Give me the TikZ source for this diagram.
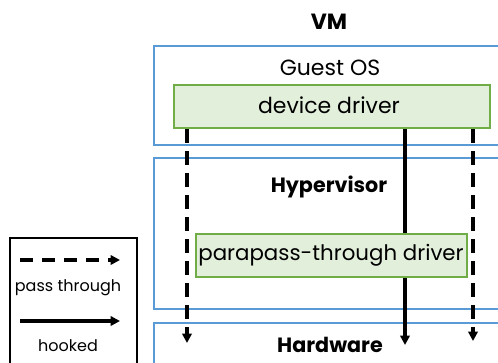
\documentclass[tikz,border=0pt]{standalone}
\usepackage{fontspec}
\setmainfont{Poppins}
\usepackage{tikz}
\usetikzlibrary{arrows.meta}
\usetikzlibrary{positioning}
\usepackage{xcolor}
\definecolor{layerblue}{HTML}{5B9BD5}
\definecolor{drvgreen}{HTML}{70AD47}
\definecolor{drvfill}{HTML}{E2EFDA}
\tikzset{
    layer/.style={
        draw=layerblue,
        line width=1.8pt,
        anchor=north west,
        minimum width=270pt,
        inner sep=0pt
    },
    driver/.style={
        draw=drvgreen,
        fill=drvfill,
        line width=1.8pt,
        anchor=north west,
        inner sep=0pt
    },
    title/.style={
        font=\fontsize{15.5}{18}\selectfont\bfseries
    },
    label/.style={
        font=\fontsize{16.5}{19}\selectfont
    },
    passedge/.style={
        draw,
        line width=2.8pt,
        dash pattern=on 10pt off 6.5pt,
        -{Triangle[length=7pt, width=7pt]}
    },
    hookedge/.style={
        draw,
        line width=2.4pt
    }
}

\begin{document}
\begin{tikzpicture}[x=0.75pt, y=-0.75pt]
  % Fix the frame to the reference size
  \useasboundingbox (0,0) rectangle (498,362);
  \clip (0,0) rectangle (498,362);

  % Layers
  \node[title, font=\fontsize{16.5}{19}\selectfont\bfseries] (vmtitle) at (329,22) {VM};
  \node[layer, minimum height=74.25pt] (guest) at (153,45) {};
  \node[label] (guesttitle) at (330,68) {Guest OS};
  \node[layer, minimum height=113.25pt] (hyper) at (153,157) {};
  \node[title] (hypertitle) at (329,187) {Hypervisor};
  \node[layer, minimum height=60pt] (hw) at (153,322) {};
  \node[title] (hwtitle) at (330,345) {Hardware};

  % Drivers
  \node[driver, minimum width=237pt, minimum height=32.25pt] (dd) at (173,84) {};
  \node[label] (ddtext) at (329,105) {device driver};
  \node[driver, minimum width=203.25pt, minimum height=32.25pt] (pt) at (195,233) {};
  \node[label, font=\fontsize{16}{19}\selectfont] (pttext) at (331,255) {parapass-through driver};

  % Ends of the arrows
  \coordinate (passl) at (187,343);
  \coordinate (passr) at (473,341);
  \coordinate (hookend) at (405,345);

  % Arrows through the layers
  \draw[passedge] (dd.south -| passl) -- (passl);
  \draw[passedge] (dd.south -| passr) -- (passr);
  \draw[hookedge] (dd.south -| hookend) -- (pt.north -| hookend);
  \draw[hookedge, -{Triangle[length=7pt, width=7pt]}] (pt.south -| hookend) -- (hookend);

  % Legend
  \node[draw, line width=1.8pt, anchor=north west, minimum width=95.25pt,
        minimum height=100pt, inner sep=0pt] (legend) at (9,237) {};
  \coordinate (la) at (20,260);
  \coordinate (lb) at (120,260);
  \coordinate (lc) at (20,321);
  \coordinate (ld) at (120,321);
  \draw[passedge] (la) -- (lb);
  \node[font=\fontsize{12}{14}\selectfont] (passtext) at (68,288) {pass through};
  \draw[hookedge, -{Triangle[length=7pt, width=7pt]}] (lc) -- (ld);
  \node[font=\fontsize{12}{14}\selectfont] (hooktext) at (68,346) {hooked};
\end{tikzpicture}
\end{document}
